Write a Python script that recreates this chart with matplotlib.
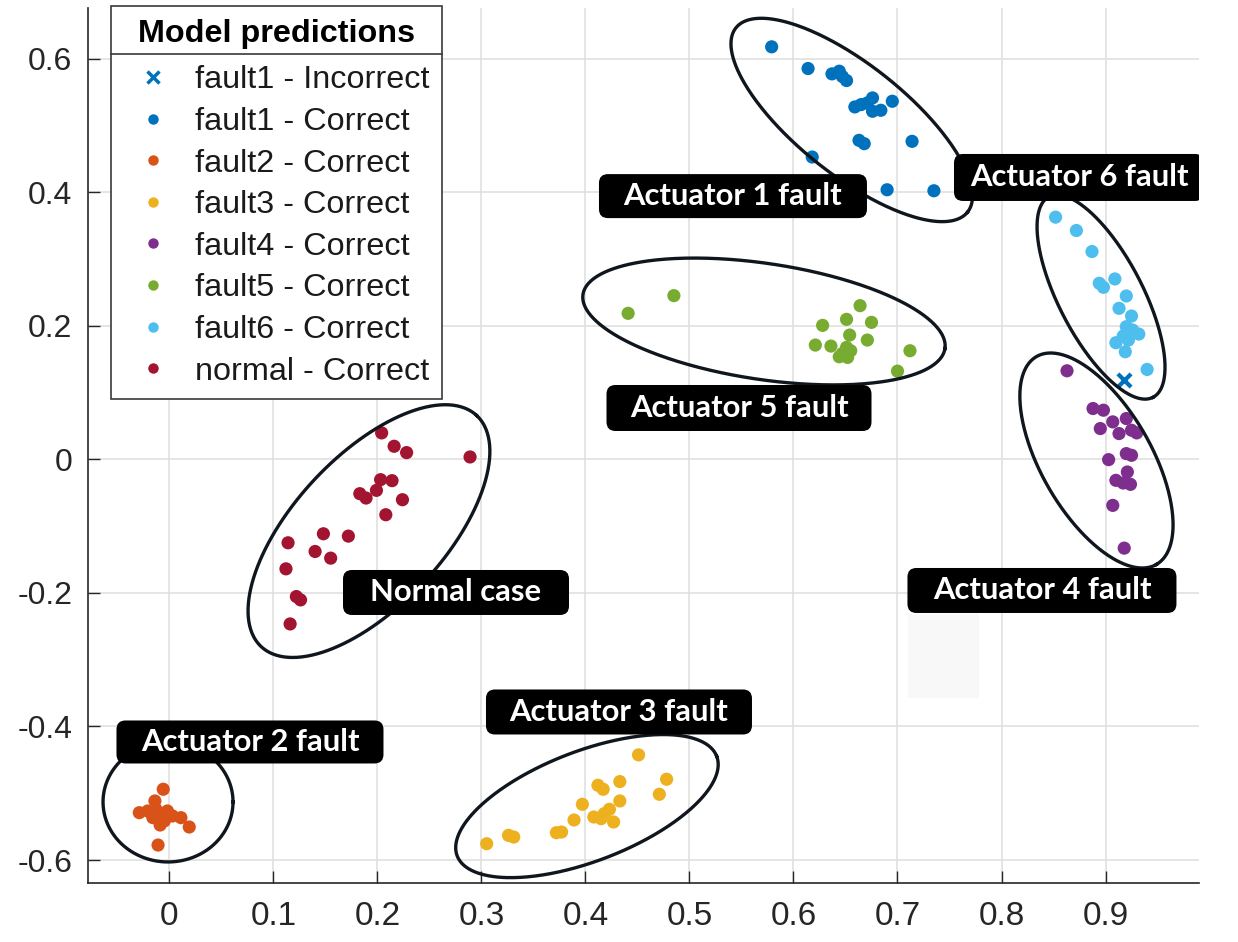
import matplotlib.pyplot as plt
import numpy as np
from matplotlib.patches import FancyBboxPatch, Rectangle
from matplotlib.lines import Line2D

plt.rcParams['font.family'] = ['Liberation Sans', 'DejaVu Sans']

# model outputs, one pair of arrays per predicted class
fault1_bad_x = [0.918]
fault1_bad_y = [0.1185]

fault1_x = [0.579, 0.614, 0.637, 0.644, 0.647, 0.651, 0.659, 0.665, 0.671, 0.676,
            0.676, 0.684, 0.695, 0.663, 0.668, 0.714, 0.618, 0.690, 0.735]
fault1_y = [0.6175, 0.585, 0.577, 0.581, 0.573, 0.567, 0.5275, 0.531, 0.5335, 0.541,
            0.521, 0.5225, 0.536, 0.4775, 0.4725, 0.476, 0.4525, 0.4035, 0.402]

fault2_x = [-0.006, -0.014, -0.029, -0.021, -0.013, -0.008, -0.002, 0.003, -0.016,
            -0.005, 0.011, -0.009, 0.019, -0.011]
fault2_y = [-0.494, -0.5115, -0.529, -0.5265, -0.524, -0.5315, -0.5265, -0.534, -0.5365,
            -0.5415, -0.5365, -0.5475, -0.5505, -0.5775]

fault3_x = [0.451, 0.478, 0.471, 0.412, 0.417, 0.433, 0.433, 0.397, 0.423, 0.418,
            0.408, 0.415, 0.427, 0.389, 0.372, 0.377, 0.326, 0.331, 0.305]
fault3_y = [-0.4425, -0.479, -0.5015, -0.488, -0.494, -0.4825, -0.5115, -0.5165, -0.524, -0.5305,
            -0.5355, -0.538, -0.543, -0.540, -0.559, -0.558, -0.563, -0.5655, -0.5755]

fault4_x = [0.863, 0.888, 0.898, 0.907, 0.920, 0.895, 0.913, 0.925, 0.930, 0.903,
            0.920, 0.925, 0.921, 0.910, 0.917, 0.924, 0.907, 0.918]
fault4_y = [0.1325, 0.076, 0.0735, 0.056, 0.061, 0.046, 0.0385, 0.0435, 0.0395, -0.0005,
            0.0085, 0.006, -0.019, -0.0315, -0.0355, -0.0375, -0.069, -0.133]

fault5_x = [0.441, 0.485, 0.664, 0.651, 0.675, 0.628, 0.654, 0.671, 0.621, 0.636,
            0.651, 0.655, 0.647, 0.644, 0.652, 0.712, 0.700]
fault5_y = [0.2185, 0.245, 0.230, 0.2095, 0.205, 0.2005, 0.186, 0.1785, 0.171, 0.1695,
            0.1675, 0.1625, 0.1585, 0.1535, 0.1525, 0.1625, 0.132]

fault6_x = [0.852, 0.872, 0.887, 0.894, 0.898, 0.909, 0.920, 0.913, 0.925, 0.920,
            0.926, 0.932, 0.917, 0.922, 0.910, 0.919, 0.940]
fault6_y = [0.3625, 0.3425, 0.311, 0.2635, 0.2575, 0.270, 0.2445, 0.226, 0.2145, 0.1985,
            0.1935, 0.1875, 0.1845, 0.1785, 0.1745, 0.161, 0.1345]

normal_x = [0.204, 0.216, 0.228, 0.289, 0.203, 0.214, 0.199, 0.183, 0.189, 0.224,
            0.208, 0.148, 0.172, 0.114, 0.140, 0.155, 0.112, 0.122, 0.126, 0.116]
normal_y = [0.0395, 0.0195, 0.010, 0.0035, -0.0305, -0.032, -0.0465, -0.0515, -0.058, -0.0605,
            -0.083, -0.1115, -0.115, -0.125, -0.138, -0.148, -0.164, -0.2055, -0.2105, -0.2465]

classes = [
    ('fault1 - Correct', fault1_x, fault1_y, '#0072BD'),
    ('fault2 - Correct', fault2_x, fault2_y, '#D95319'),
    ('fault3 - Correct', fault3_x, fault3_y, '#EDB120'),
    ('fault4 - Correct', fault4_x, fault4_y, '#7E2F8E'),
    ('fault5 - Correct', fault5_x, fault5_y, '#77AC30'),
    ('fault6 - Correct', fault6_x, fault6_y, '#4DBEEE'),
    ('normal - Correct', normal_x, normal_y, '#A2142F'),
]

xticks = [0, 0.1, 0.2, 0.3, 0.4, 0.5, 0.6, 0.7, 0.8, 0.9]
yticks = [-0.6, -0.4, -0.2, 0, 0.2, 0.4, 0.6]
xlim = (-0.0788, 0.9899)
ylim = (-0.6338, 0.6756)

fig = plt.figure(figsize=(12.38, 9.42), dpi=100)
ax = fig.add_axes([0.0707, 0.0630, 0.8978, 0.9285])
ax.set_xlim(xlim)
ax.set_ylim(ylim)
ax.set_xticks(xticks)
ax.set_xticklabels(['0' if v == 0 else f'{v:g}' for v in xticks])
ax.set_yticks(yticks)
ax.set_yticklabels(['0' if v == 0 else f'{v:g}' for v in yticks])
ax.grid(True, color='#e0e0e0', lw=1.2)
ax.set_axisbelow(True)
for s in ['top', 'right']:
    ax.spines[s].set_visible(False)
for s in ['left', 'bottom']:
    ax.spines[s].set_color('#262626')
    ax.spines[s].set_linewidth(1.2)
ax.tick_params(direction='in', length=8.5, width=1, color='#262626',
               labelsize=23, labelcolor='#262626')
ax.tick_params(axis='x', pad=13, labelsize=24)
ax.tick_params(axis='y', pad=11)

# pixels per data unit, used to size the outlines and tag boxes
sx = ax.bbox.width / (xlim[1] - xlim[0])
sy = ax.bbox.height / (ylim[1] - ylim[0])

ax.add_patch(Rectangle((0.7101, -0.3569), 0.0683, 0.1258, fc='#f8f8f8', ec='none', zorder=0.5))

ax.scatter(fault1_bad_x, fault1_bad_y, marker='x', s=90, linewidths=3,
           color='#0072BD', zorder=3)
for name, xs, ys, c in classes:
    ax.scatter(xs, ys, s=90, color=c, edgecolors='none', zorder=3)


def ring(cx, cy, a, b, ang):
    t = np.linspace(0, 2 * np.pi, 400)
    th = np.deg2rad(ang)
    dx = a * np.cos(t) * np.cos(th) - b * np.sin(t) * np.sin(th)
    dy = a * np.cos(t) * np.sin(th) + b * np.sin(t) * np.cos(th)
    ax.plot(cx + dx / sx, cy + dy / sy, color='#0f161d', lw=2.4, zorder=4)


def tag(cx, cy, txt, w, h):
    r = 9
    ax.add_patch(FancyBboxPatch((cx - w / 2 / sx, cy - h / 2 / sy), w / sx, h / sy,
                                boxstyle=f'round,pad=0,rounding_size={r / sx}',
                                mutation_aspect=sx / sy, fc='black', ec='none', zorder=5))
    ax.text(cx, cy, txt, color='white', fontsize=22.3, fontweight='bold', family='Lato',
            ha='center', va='center', zorder=6)


# cluster outlines: centre (data), semi-axes (px), tilt (deg)
ring(0.656, 0.508, 148, 55, -38.5)
ring(0.8957, 0.243, 113, 42, -62.6)
ring(0.8913, -0.0018, 120, 55, -60)
ring(0.5716, 0.2063, 183, 58, -8.5)
ring(0.1918, -0.1075, 158, 75, 47)
ring(0.4014, -0.5192, 139, 55, 21)
ring(-0.0014, -0.5130, 65, 60, 0)

tag(0.5418, 0.394, 'Actuator 1 fault', 268, 44)
tag(0.8745, 0.4219, 'Actuator 6 fault', 250, 47)
tag(0.5476, 0.0768, 'Actuator 5 fault', 265, 46)
tag(0.2755, -0.1994, 'Normal case', 226, 45)
tag(0.8389, -0.1964, 'Actuator 4 fault', 269, 45)
tag(0.4322, -0.3783, 'Actuator 3 fault', 266, 45)
tag(0.0774, -0.4232, 'Actuator 2 fault', 267, 43)

handles = [Line2D([], [], ls='none', marker='x', ms=8, mew=2.5, color='#0072BD',
                  label='fault1 - Incorrect')]
for name, xs, ys, c in classes:
    handles.append(Line2D([], [], ls='none', marker='o', ms=7.5, mec='none', color=c, label=name))

leg = ax.legend(handles=handles, loc='upper left', bbox_to_anchor=(0.0209, 1.002),
                borderaxespad=0, fontsize=23.3, title='Model predictions',
                title_fontproperties={'size': 23.3, 'weight': 'bold'},
                fancybox=False, framealpha=1, edgecolor='#3a3a3a',
                handlelength=1.85, handletextpad=0.37, borderpad=0.38, labelspacing=0.36)
leg._legend_box.sep = 12
leg.get_frame().set_linewidth(1.2)
for t in leg.get_texts():
    t.set_color('#1a1a1a')
leg.set_zorder(7)

# horizontal rule under the legend title
fig.canvas.draw()
fb = leg.get_frame().get_window_extent()
tb = leg.get_title().get_window_extent()
eb = leg.get_texts()[0].get_window_extent()
yline = tb.y0 - 0.3 * (tb.y0 - eb.y1)
W, H = fig.bbox.width, fig.bbox.height
fig.add_artist(Line2D([fb.x0 / W, fb.x1 / W], [yline / H, yline / H], color='#3a3a3a',
                      lw=1.2, zorder=8))

fig.savefig('out.png', dpi=100)
